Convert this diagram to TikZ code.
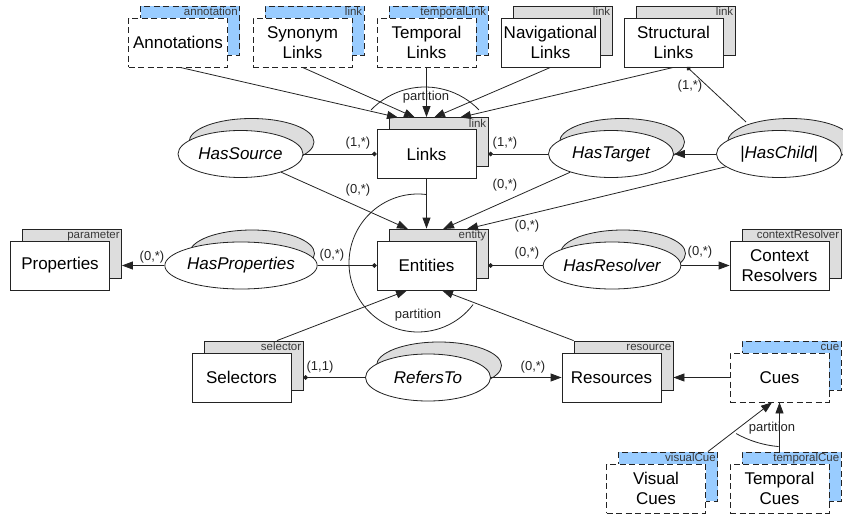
\documentclass[tikz,border=0pt]{standalone}
\usepackage{fontspec}
\setmainfont{Liberation Sans}
\usetikzlibrary{shapes.geometric,arrows.meta,calc}
\definecolor{cueblue}{RGB}{153,204,255}
\definecolor{shgray}{RGB}{221,221,221}
\definecolor{ink}{RGB}{35,35,35}
\tikzset{
  entbox/.style={draw=ink, line width=0.8pt, fill=white, minimum width=99pt, minimum height=49pt, inner sep=0pt, align=center, font=\fontsize{17}{20.5}\selectfont},
  dentbox/.style={entbox, dash pattern=on 6pt off 3.5pt},
  gshad/.style={draw=ink, line width=0.8pt, fill=shgray, minimum width=99pt, minimum height=49pt, inner sep=0pt},
  bshad/.style={gshad, fill=cueblue, dash pattern=on 6pt off 3.5pt},
  tagtext/.style={anchor=base east, inner sep=0pt, font=\fontsize{11.5}{12}\selectfont, text=ink!90},
  relnode/.style={ellipse, draw=ink, line width=0.8pt, fill=white, minimum width=125pt, minimum height=47pt, inner sep=0pt, font=\fontsize{17}{20}\selectfont\itshape},
  relshad/.style={ellipse, draw=ink, line width=0.8pt, fill=shgray, minimum width=125pt, minimum height=47pt, inner sep=0pt},
  cardlbl/.style={font=\fontsize{13}{15}\selectfont, inner sep=0pt, text=ink},
  conline/.style={draw=ink, line width=0.8pt},
  arrline/.style={conline, -{Triangle[length=11pt,width=8pt]}},
  dotline/.style={conline, -{Circle[length=4.5pt]}},
}
\newcommand{\myent}[5]{%
  \node[gshad, xshift=12pt, yshift=12pt] (#1S) at (#2,#3) {};
  \node[tagtext] at ($(#1S.north east)+(-2,-10.3)$) {#5};
  \node[entbox] (#1) at (#2,#3) {#4};
}
\newcommand{\mydent}[5]{%
  \node[bshad, xshift=12pt, yshift=12pt] (#1S) at (#2,#3) {};
  \node[tagtext] at ($(#1S.north east)+(-2,-10.3)$) {#5};
  \node[dentbox] (#1) at (#2,#3) {#4};
}
\newcommand{\myrel}[4]{%
  \node[relshad, xshift=11pt, yshift=12pt] (#1S) at (#2,#3) {};
  \node[relnode] (#1) at (#2,#3) {#4};
}
\begin{document}
\begin{tikzpicture}[x=1pt,y=1pt]
\useasboundingbox (0,0) rectangle (843,515);
% entities
\mydent{ann}{178}{472.5}{Annotations}{annotation}
\mydent{syn}{302.5}{472.5}{Synonym\\Links}{link}
\mydent{tl}{426.5}{472.5}{Temporal\\Links}{temporalLink}
\myent{nl}{550.5}{472.5}{Navigational\\Links}{link}
\myent{sl}{673.5}{472.5}{Structural\\Links}{link}
\myent{links}{426.5}{361}{Links}{link}
\myent{ent}{426.5}{249.5}{Entities}{entity}
\myent{prop}{60}{249.5}{Properties}{parameter}
\myent{cr}{779.5}{249.5}{Context\\Resolvers}{contextResolver}
\myent{sel}{241.5}{137.5}{Selectors}{selector}
\myent{res}{611.5}{137.5}{Resources}{resource}
\mydent{cues}{779.5}{137.5}{Cues}{cue}
\mydent{vc}{656}{26.5}{Visual\\Cues}{visualCue}
\mydent{tc}{779.5}{26.5}{Temporal\\Cues}{temporalCue}
% relationships
\myrel{hs}{240.5}{361}{HasSource}
\myrel{ht}{611}{361}{HasTarget}
\myrel{hc}{779}{361}{|HasChild|}
\myrel{hp}{241}{249.5}{HasProperties}
\myrel{hr}{612}{249.5}{HasResolver}
\myrel{rt}{428}{137.5}{RefersTo}
% coordinates
\coordinate (lt1) at (398,397.5);
\coordinate (lt2) at (415,397.5);
\coordinate (lt4) at (434,397.5);
\coordinate (lt5) at (460,397.5);
\coordinate (et1) at (408,286);
\coordinate (et3) at (443,286);
\coordinate (et4) at (467,286);
\coordinate (hcA) at (746,393);
\coordinate (sldot) at (687,448);
% links hierarchy
\draw[arrline] ($(ann.south)+(2,0)$) -- (lt1);
\draw[arrline] (syn.south) -- (lt2);
\draw[arrline] (tl.south) -- (tl.south |- linksS.north);
\draw[arrline] (nl.south) -- (lt4);
\draw[arrline] (sl.south) -- (lt5);
\draw[conline] (425,353) ++(44:75) arc[start angle=44, end angle=136, radius=75];
\node[cardlbl] (p1) at (426,418) {partition};
% link relations
\draw[dotline] (hs) -- (links);
\draw[dotline] (ht) -- (ht -| linksS.east);
\draw[arrline] (hc) -- (ht);
\draw[dotline] (hcA) -- (sldot);
\draw[arrline] (hs) -- (et1);
\draw[arrline] (links) -- (links |- entS.north);
\draw[arrline] (ht) -- (et3);
\draw[arrline] (hc) -- (et4);
% entity relations
\draw[arrline] (hp) -- (hp -| propS.east);
\draw[dotline] (hp) -- (ent);
\draw[dotline] (hr) -- (hr -| entS.east);
\draw[arrline] (hr) -- (cr);
\draw[arrline] ($(selS.north)+(23.5,0)$) -- ($(ent.south)+(-19.5,0)$);
\draw[arrline] (resS.north west) -- ($(ent.south)+(15.5,0)$);
\draw[conline] (418,252) ++(83:69) arc[start angle=83, end angle=323, radius=69];
\node[cardlbl] (p2) at (418,200) {partition};
% selectors / resources / cues
\draw[dotline] (rt) -- (rt -| selS.east);
\draw[arrline] (rt) -- (res);
\draw[arrline] (cues) -- (cues -| resS.east);
\draw[arrline] ($(vcS.north east)+(-10,0)$) -- ($(cues.south)+(-7.5,0)$);
\draw[arrline] (tc |- tcS.north) -- (cues.south);
\draw[conline] (788,175) ++(241:107) arc[start angle=241, end angle=265, radius=107];
\node[cardlbl] (p3) at (772,87) {partition};
% cardinalities
\node[cardlbl] at (358,372) {(1,*)};
\node[cardlbl] at (505,372) {(1,*)};
\node[cardlbl] at (358,325) {(0,*)};
\node[cardlbl] at (505,330) {(0,*)};
\node[cardlbl] at (527,289) {(0,*)};
\node[cardlbl] at (690,429) {(1,*)};
\node[cardlbl] at (152,258) {(0,*)};
\node[cardlbl] at (332,260) {(0,*)};
\node[cardlbl] at (527,262) {(0,*)};
\node[cardlbl] at (700,263) {(0,*)};
\node[cardlbl] at (320,148) {(1,1)};
\node[cardlbl] at (533,148) {(0,*)};
\end{tikzpicture}
\end{document}
